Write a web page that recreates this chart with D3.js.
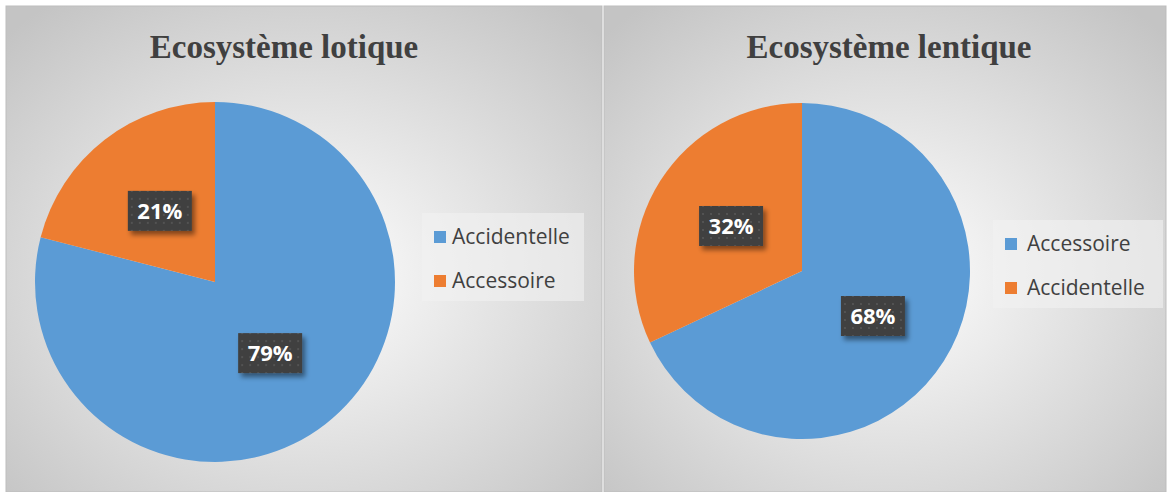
<!DOCTYPE html>
<html><head><meta charset="utf-8">
<script src="https://cdn.jsdelivr.net/npm/d3@7"></script>
<style>body{margin:0;background:#fff;}svg{display:block;}</style>
</head><body>
<svg id="c" width="1168" height="492"></svg>
<script>
const titles = ["Ecosystème lotique", "Ecosystème lentique"];
const lotiqueCats = ["Accidentelle", "Accessoire"];
const lotiqueVals = [79, 21];
const lentiqueCats = ["Accessoire", "Accidentelle"];
const lentiqueVals = [68, 32];
const sliceColors = ["#5B9BD5", "#ED7D31"];

const svg = d3.select("#c");
const defs = svg.append("defs");
const rg = defs.append("radialGradient").attr("id","bg").attr("cx","50%").attr("cy","55%").attr("r","70%");
rg.append("stop").attr("offset","0%").attr("stop-color","#ffffff");
rg.append("stop").attr("offset","100%").attr("stop-color","#c4c4c4");
const pat = defs.append("pattern").attr("id","dots").attr("width",8).attr("height",8).attr("patternUnits","userSpaceOnUse");
pat.append("rect").attr("width",8).attr("height",8).attr("fill","#404040");
pat.append("circle").attr("cx",4).attr("cy",4).attr("r",1).attr("fill","#595959");
const f = defs.append("filter").attr("id","sh").attr("x","-30%").attr("y","-30%").attr("width","170%").attr("height","170%");
f.append("feDropShadow").attr("dx",3).attr("dy",4).attr("stdDeviation",2.5).attr("flood-color","#000").attr("flood-opacity",0.45);

const panels = [
  {x0:6, x1:602, title:titles[0], tx:284, cats:lotiqueCats, vals:lotiqueVals, cx:215, cy:282, r:180,
   lg:{x:422,y:213,w:162,h:88,tx:30}},
  {x0:604, x1:1166, title:titles[1], tx:889, cats:lentiqueCats, vals:lentiqueVals, cx:802, cy:271, r:168,
   lg:{x:993,y:220,w:170,h:88,tx:34}}
];

panels.forEach(p => {
  const g = svg.append("g");
  g.append("rect").attr("x",p.x0).attr("y",6).attr("width",p.x1-p.x0).attr("height",492-6)
    .attr("fill","url(#bg)").attr("stroke","#bdbdbd").attr("stroke-width",1);
  g.append("text").attr("x",p.tx).attr("y",58).attr("text-anchor","middle")
    .attr("font-family","'Liberation Serif','Times New Roman',serif").attr("font-weight","bold")
    .attr("font-size",33).attr("fill","#404040").text(p.title);

  const color = d3.scaleOrdinal().domain(p.cats).range(sliceColors);
  const pie = d3.pie().sort(null).value((d,i)=>p.vals[i]);
  const arcs = pie(p.cats);
  const arc = d3.arc().innerRadius(0).outerRadius(p.r);
  const lab = d3.arc().innerRadius(p.r*0.5).outerRadius(p.r*0.5);
  const pg = g.append("g").attr("transform",`translate(${p.cx},${p.cy})`);
  pg.selectAll("path").data(arcs).join("path").attr("d",arc).attr("fill",d=>color(d.data));
  const lg = pg.selectAll("g.lab").data(arcs).join("g").attr("class","lab")
    .attr("transform",d=>{const c=lab.centroid(d);return `translate(${c[0]},${c[1]})`;});
  lg.append("rect").attr("x",-32).attr("y",-20).attr("width",64).attr("height",40)
    .attr("fill","url(#dots)").attr("filter","url(#sh)");
  lg.append("text").attr("text-anchor","middle").attr("y",8)
    .attr("font-family","'Open Sans',sans-serif").attr("font-weight","bold").attr("font-size",22)
    .attr("fill","#ffffff").text(d=>d3.format(".0%")(d.value/100));

  const L = p.lg;
  const lgG = g.append("g");
  lgG.append("rect").attr("x",L.x).attr("y",L.y).attr("width",L.w).attr("height",L.h).attr("fill","#f2f2f2").attr("opacity",0.6);
  p.cats.forEach((c,i)=>{
    const yy = L.y + 18 + i*44;
    lgG.append("rect").attr("x",L.x+12).attr("y",yy).attr("width",12).attr("height",12).attr("fill",color(c));
    lgG.append("text").attr("x",L.x+L.tx).attr("y",yy+13)
      .attr("font-family","'Open Sans',sans-serif").attr("font-size",21).attr("fill","#404040").text(c);
  });
});
</script>
</body></html>
